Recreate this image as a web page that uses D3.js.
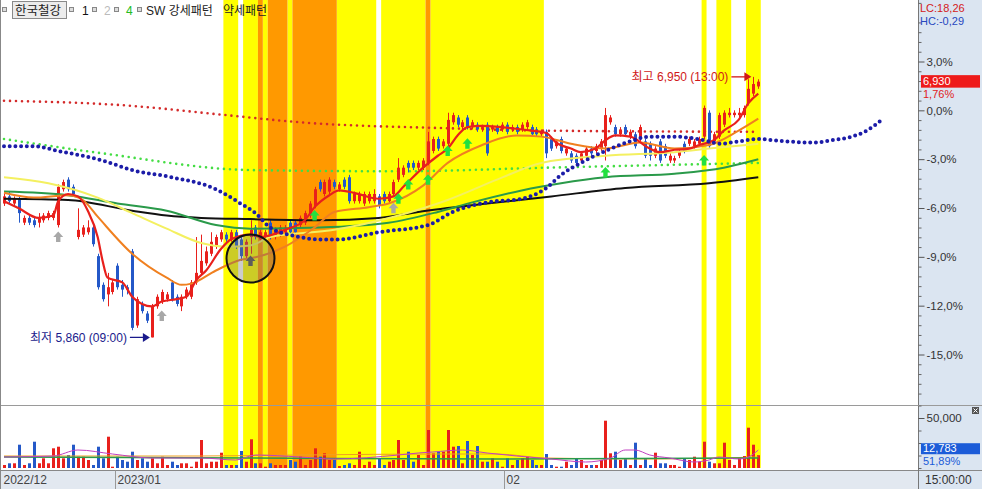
<!DOCTYPE html>
<html><head><meta charset="utf-8">
<script src="https://cdn.jsdelivr.net/npm/d3@7"></script>
<style>
body{margin:0;background:#fff;overflow:hidden;}
svg{display:block;font-family:"Liberation Sans","Noto Sans CJK KR",sans-serif;}
</style></head><body>
<svg id="c" width="982" height="489"></svg>
<script>
// ---------- DATA ----------
const opens=[6420,6450,6420,6440,6340,6360,6350,6340,6350,6360,6360,6330,6480,6520,6490,6280,6290,6300,6320,6200,
6080,6040,6050,6160,6080,6070,6220,5910,6000,5960,5860,5990,6010,6020,6090,6030,5990,6030,6030,6090,
6130,6170,6210,6240,6270,6290,6270,6300,6270,6200,6280,6320,6270,6280,6340,6280,6290,6300,6340,6340,
6330,6340,6370,6410,6510,6460,6470,6510,6480,6520,6530,6430,6430,6420,6430,6430,6450,6460,6430,6460,
6520,6540,6590,6590,6570,6570,6590,6640,6690,6660,6670,6760,6780,6740,6780,6740,6750,6730,6750,6730,
6740,6730,6750,6730,6740,6730,6740,6740,6730,6710,6720,6690,6660,6690,6630,6630,6620,6600,6620,6650,
6640,6650,6660,6760,6740,6710,6740,6700,6710,6690,6680,6670,6620,6680,6660,6600,6600,6620,6670,6670,
6660,6670,6700,6800,6680,6700,6750,6790,6790,6790,6790,6840,6880,6910];
const highs=[6460,6470,6450,6450,6370,6370,6360,6380,6380,6390,6390,6500,6520,6530,6500,6400,6330,6350,6330,6210,
6090,6130,6100,6170,6100,6080,6230,6030,6010,5970,6000,6040,6060,6050,6100,6040,6040,6070,6100,6280,
6290,6240,6300,6290,6310,6300,6310,6310,6280,6270,6350,6330,6310,6310,6350,6320,6330,6330,6350,6350,
6370,6390,6430,6490,6520,6520,6530,6520,6510,6530,6540,6470,6470,6470,6470,6480,6460,6470,6470,6520,
6610,6580,6600,6600,6600,6610,6720,6700,6700,6690,6800,6800,6790,6770,6790,6770,6760,6750,6760,6750,
6750,6760,6760,6750,6750,6760,6770,6750,6740,6730,6730,6700,6690,6700,6660,6640,6630,6640,6660,6660,
6670,6690,6820,6790,6750,6740,6750,6730,6720,6750,6690,6680,6660,6690,6670,6630,6620,6650,6680,6700,
6690,6700,6830,6810,6720,6800,6810,6820,6810,6820,6830,6940,6950,6940];
const lows=[6410,6420,6410,6340,6330,6330,6320,6320,6340,6350,6350,6320,6470,6470,6450,6270,6280,6290,6240,6060,
6010,5990,6040,6060,6030,6040,5890,5900,5960,5920,5860,5980,6000,6010,6010,5990,5970,6020,6020,6080,
6120,6160,6200,6230,6260,6260,6260,6230,6180,6190,6210,6270,6260,6270,6270,6270,6280,6290,6290,6290,
6320,6330,6360,6400,6470,6450,6460,6480,6470,6480,6420,6420,6420,6410,6420,6420,6400,6420,6420,6450,
6510,6530,6550,6560,6560,6560,6580,6630,6640,6650,6660,6750,6740,6730,6730,6730,6720,6720,6620,6720,
6710,6720,6710,6720,6710,6720,6730,6700,6700,6700,6610,6640,6650,6630,6620,6590,6580,6590,6610,6620,
6630,6640,6600,6750,6700,6700,6700,6690,6650,6680,6610,6600,6610,6590,6610,6590,6590,6610,6630,6660,
6650,6660,6690,6650,6670,6690,6740,6780,6780,6780,6780,6830,6870,6900];
const closes=[6450,6430,6440,6380,6360,6340,6330,6360,6370,6380,6380,6490,6510,6480,6460,6310,6320,6320,6250,6070,
6020,6070,6090,6070,6060,6060,5900,6020,5970,5930,5990,6030,6050,6040,6020,6000,6030,6060,6090,6130,
6180,6220,6260,6280,6300,6270,6300,6240,6200,6260,6310,6280,6300,6300,6280,6310,6320,6320,6300,6300,
6360,6380,6420,6480,6480,6510,6520,6490,6500,6490,6430,6460,6460,6460,6460,6460,6410,6430,6460,6510,
6570,6570,6570,6570,6590,6600,6680,6690,6650,6680,6770,6790,6750,6760,6740,6760,6730,6740,6630,6740,
6720,6750,6720,6740,6720,6750,6760,6710,6710,6720,6630,6650,6680,6640,6650,6600,6590,6630,6650,6630,
6660,6680,6790,6780,6710,6730,6710,6720,6660,6740,6620,6620,6650,6600,6620,6620,6610,6640,6640,6690,
6680,6690,6820,6660,6710,6790,6800,6800,6800,6800,6820,6900,6920,6930];
const volumes=[3000,4700,4700,23300,3000,4700,26300,4700,9700,4700,19700,21300,9700,13000,23300,11300,11300,8000,3000,21300,
9700,31300,1300,11300,8000,6300,16300,8000,9700,6300,9700,4700,11300,3000,6300,3000,4700,4700,1300,6300,
28000,4700,6300,6300,15300,3000,3000,3000,17000,6300,28700,4700,4700,1300,4700,3000,3000,3000,8000,6300,
11300,3000,8000,19700,11300,14700,8000,8000,2000,3000,4700,3000,16300,3000,6300,3000,9700,3000,6300,8000,
28000,8000,16300,6300,13000,3000,38000,14700,16300,16300,38000,21300,22000,4700,27000,13000,22000,6300,6300,9700,
6300,1300,9700,3000,8000,9700,11300,8000,3000,3000,14000,3000,1300,1300,6300,3000,9700,8000,3000,3000,
3000,8000,47300,14700,16300,8000,9700,3000,25300,3000,9700,3000,15300,4700,4700,3000,3000,1300,9700,8000,
11300,6300,26300,6300,4700,4700,25300,8000,3000,9700,12000,40300,23300,12783];
const basePrice=6810;
const pctTicks=[-15,-12,-9,-6,-3,0,3];
const volTicks=[50000];
const dateTicks=[{i:0,label:"2022/12"},{i:23,label:"2023/01"},{i:102,label:"02"}];
// moving-average / indicator lines: [candle index, price]
const lineRed=[[0,6430],[3,6400],[7,6360],[10,6370],[11,6430],[13,6460],[15,6450],[17,6390],[19,6280],[20,6180],[21,6110],[24,6090],[26,6030],[28,6000],[30,5990],[32,6010],[35,6020],[37,6030],[39,6100],[41,6140],[44,6230],[46,6270],[50,6290],[52,6280],[57,6310],[61,6350],[63,6405],[66,6455],[68,6475],[71,6465],[76,6440],[79,6450],[81,6490],[85,6570],[88,6620],[90,6650],[92,6705],[94,6740],[97,6745],[103,6735],[107,6725],[110,6715],[112,6675],[115,6650],[117,6635],[120,6650],[122,6685],[124,6705],[127,6700],[131,6650],[133,6635],[136,6645],[139,6650],[141,6665],[144,6685],[146,6725],[149,6770],[151,6840],[153,6880]];
const lineOrange=[[0,6465],[6,6445],[13,6455],[16,6435],[19,6365],[26,6210],[33,6110],[36,6080],[38,6085],[43,6140],[48,6185],[51,6195],[57,6240],[63,6320],[67,6385],[74,6405],[78,6420],[85,6495],[90,6590],[97,6665],[104,6705],[109,6700],[115,6670],[122,6650],[129,6675],[136,6650],[143,6665],[149,6725],[153,6775]];
const lineYellow=[[0,6530],[9,6505],[19,6445],[26,6380],[33,6315],[40,6255],[45,6240],[50,6245],[54,6280],[67,6310],[80,6370],[90,6435],[100,6520],[109,6590],[122,6620],[136,6635],[143,6650],[153,6670]];
const lineGreen=[[0,6470],[13,6455],[23,6420],[33,6390],[43,6330],[50,6315],[64,6320],[78,6340],[88,6385],[95,6425],[105,6475],[113,6505],[122,6530],[136,6545],[146,6570],[153,6605]];
const lineBlack=[[0,6440],[13,6435],[26,6390],[33,6370],[40,6360],[50,6355],[64,6350],[76,6360],[84,6385],[98,6420],[111,6450],[126,6485],[143,6505],[153,6530]];
const dotRed=[[0,6850],[25,6830],[45,6790],[60,6760],[90,6735],[110,6725],[153,6720]];
const dotGreen=[[0,6690],[20,6630],[50,6560],[80,6555],[110,6570],[153,6590]];
const dotNavy=[[0,6660],[6,6660],[11,6640],[20,6600],[26,6560],[34,6530],[43,6480],[48,6420],[51,6380],[54,6320],[60,6280],[64,6270],[68,6270],[76,6300],[86,6330],[91,6385],[98,6425],[105,6440],[110,6485],[113,6540],[117,6590],[122,6640],[127,6680],[131,6700],[136,6700],[139,6695],[143,6680],[145,6670],[149,6680],[153,6690],[156,6685],[159,6680],[164,6675],[168,6685],[172,6700],[175,6725],[178,6770]];
const volLineGreen=[[0,11000],[50,10000],[100,9000],[153,10000]];
const volLineOrange=[[0,12000],[40,12000],[60,13000],[90,14000],[100,14000],[110,10000],[130,9000],[153,11000]];
const volLineMagenta=[[0,11000],[10,12000],[15,18000],[22,14000],[30,10000],[40,10000],[47,8000],[51,13000],[60,11000],[67,9000],[80,13000],[84,15000],[87,16000],[93,18000],[98,15000],[104,12000],[111,9000],[118,6000],[123,10000],[126,18000],[128,18000],[131,13000],[135,10000],[140,6000],[143,8000],[145,11000],[149,9000],[151,11000],[153,18000]];
const bandsYellow=[[45,47],[49,51],[53,53],[58,58],[68,75],[77,85],[87,109],[142,142],[145,147],[151,153]];
const bandsOrange=[[52,52],[54,57],[59,67],[86,86]];
const signals=[{i:11,p:6280,c:"#a8a8a8"},{i:32,p:5950,c:"#a8a8a8"},{i:50,p:6180,c:"#555555"},{i:63,p:6370,c:"#22e040"},
{i:79,p:6400,c:"#a8a8a8"},{i:80,p:6440,c:"#22e040"},{i:82,p:6500,c:"#22e040"},{i:86,p:6520,c:"#22e040"},
{i:90,p:6640,c:"#22e040"},{i:94,p:6670,c:"#22e040"},{i:122,p:6550,c:"#22e040"},{i:142,p:6600,c:"#22e040"}];
const circleMark={i:50,p:6190};
const lowMark={i:30,p:5860,label:"최저 5,860 (09:00)"};
const highMark={i:152,p:6950,label:"최고 6,950 (13:00)"};
const legendItems=["1","2","4","SW 강세패턴","약세패턴"];
const stockName="한국철강";
const lcText="LC:18,26", hcText="HC:-0,29";
const lastPctText="1,76%", lastVolPctText="51,89%";
const timeText="15:00:00";

// ---------- CHART ----------
const svg=d3.select("#c");
const W=982,H=489,PR=918,MAIN_B=405.5,VOL_B=468,DATE_T=470.5;
const RED="#e8201c",BLUE="#2458c8";
const N=closes.length;
const x=d3.scaleLinear().domain([0,N-1]).range([4,758.3]);
const step=x(1)-x(0);
const y=d3.scaleLinear().domain([-15,3]).range([354.5,61.5]);
const pct=p=>(p/basePrice-1)*100;
const yp=p=>y(pct(p));
const yv=d3.scaleLinear().domain([0,62500]).range([VOL_B,405.5]);

svg.append("rect").attr("width",W).attr("height",H).attr("fill","#fff");
// bands
const bandG=svg.append("g");
function band(arr,col){arr.forEach(([s,e])=>{bandG.append("rect").attr("x",x(s)-step/2).attr("y",0)
 .attr("width",x(e)-x(s)+step).attr("height",VOL_B).attr("fill",col);});}
band(bandsYellow,"#ffff00");band(bandsOrange,"#ff9900");

svg.append("clipPath").attr("id","cm").append("rect").attr("x",0).attr("y",0).attr("width",PR).attr("height",MAIN_B);
svg.append("clipPath").attr("id","cv").append("rect").attr("x",0).attr("y",MAIN_B+1).attr("width",PR).attr("height",VOL_B-MAIN_B-1);
const gm=svg.append("g").attr("clip-path","url(#cm)");
const gv=svg.append("g").attr("clip-path","url(#cv)");

// volume bars
volumes.forEach((v,i)=>{const up=closes[i]>=opens[i];
 gv.append("rect").attr("x",Math.round(x(i))-1).attr("y",yv(v)).attr("width",3).attr("height",VOL_B-yv(v)).attr("fill",up?RED:BLUE);});
const lineV=d3.line().x(d=>x(d[0])).y(d=>yv(d[1])).curve(d3.curveMonotoneX);
gv.append("path").attr("d",lineV(volLineOrange)).attr("fill","none").attr("stroke","#f0a020").attr("stroke-width",1);
gv.append("path").attr("d",lineV(volLineGreen)).attr("fill","none").attr("stroke","#2a9a4a").attr("stroke-width",1.5);
gv.append("path").attr("d",lineV(volLineMagenta)).attr("fill","none").attr("stroke","#c040c0").attr("stroke-width",1);

// dotted lines
const lineP=d3.line().x(d=>x(d[0])).y(d=>yp(d[1])).curve(d3.curveMonotoneX);
function dotted(data,col,w,gap){gm.append("path").attr("d",lineP(data)).attr("fill","none").attr("stroke",col)
 .attr("stroke-width",w).attr("stroke-linecap","round").attr("stroke-dasharray","0 "+gap);}
dotted(dotRed,"#d42a2a",2.6,6);
dotted(dotGreen,"#44dd44",2.6,6);

// candles
closes.forEach((c,i)=>{const o=opens[i],up=c>=o,col=up?RED:BLUE,cx=Math.round(x(i));
 gm.append("line").attr("x1",cx+0.5).attr("x2",cx+0.5).attr("y1",yp(highs[i])).attr("y2",yp(lows[i])).attr("stroke",col).attr("stroke-width",1);
 const t=yp(Math.max(o,c)),b=yp(Math.min(o,c));
 gm.append("rect").attr("x",cx-1).attr("y",t).attr("width",3).attr("height",Math.max(1.2,b-t)).attr("fill",col);});

// MA lines
function solid(data,col,w){gm.append("path").attr("d",lineP(data)).attr("fill","none").attr("stroke",col).attr("stroke-width",w);}
solid(lineBlack,"#111111",2);
solid(lineGreen,"#2a9a4a",2);
solid(lineYellow,"#f4f060",2);
solid(lineOrange,"#f08020",2);
solid(lineRed,"#e8201c",2.2);
dotted(dotNavy,"#1c1ca8",4,5.7);

// signals
signals.forEach(s=>{gm.append("path").attr("transform",`translate(${x(s.i)},${yp(s.p)})`)
 .attr("d","M0,-5.5L5,0L2.2,0L2.2,5L-2.2,5L-2.2,0L-5,0Z").attr("fill",s.c);});
// circle
gm.append("circle").attr("cx",x(circleMark.i)).attr("cy",yp(circleMark.p)).attr("r",24)
 .attr("fill","rgba(110,110,110,0.35)").attr("stroke","#111").attr("stroke-width",2);

// annotations
function annot(m,col){const ax=x(m.i)-2,ay=yp(m.p);
 gm.append("line").attr("x1",ax-20).attr("x2",ax-5).attr("y1",ay).attr("y2",ay).attr("stroke",col).attr("stroke-width",1.3);
 gm.append("path").attr("d",`M${ax},${ay}L${ax-7},${ay-4.5}L${ax-7},${ay+4.5}Z`).attr("fill",col);
 gm.append("text").attr("x",ax-23).attr("y",ay+4.5).attr("text-anchor","end").attr("font-size",12).attr("fill",col).text(m.label);}
annot(lowMark,"#1a1a8c");
annot(highMark,"#d01818");

// legend
const lg=svg.append("g");
function sq(xx){lg.append("rect").attr("x",xx+0.5).attr("y",7.5).attr("width",4).attr("height",4).attr("fill","#ddd").attr("stroke","#888").attr("stroke-width",1);}
sq(2);
lg.append("rect").attr("x",12.5).attr("y",1.5).attr("width",54).attr("height",17).attr("fill","#ececec").attr("stroke","#8a8a8a");
lg.append("text").attr("x",15).attr("y",15).attr("font-size",12.5).attr("fill","#222").text(stockName);
const lgPos=[[69,82,"#111"],[92,104,"#bbbbbb"],[114,126,"#22bb22"],[137,146,"#222"],[null,223,"#222"]];
legendItems.forEach((t,k)=>{const [sx,tx,col]=lgPos[k]; if(sx!==null)sq(sx);
 lg.append("text").attr("x",tx).attr("y",15).attr("font-size",12).attr("fill",col).text(t);});

// separators / panels
svg.append("line").attr("x1",0).attr("x2",W).attr("y1",MAIN_B).attr("y2",MAIN_B).attr("stroke","#9a9a9a");
svg.append("rect").attr("x",PR).attr("y",0).attr("width",W-PR).attr("height",H).attr("fill","#dbe5f1");
svg.append("rect").attr("x",0).attr("y",DATE_T).attr("width",PR).attr("height",H-DATE_T).attr("fill","#e2e8f0");
svg.append("line").attr("x1",0).attr("x2",W).attr("y1",DATE_T).attr("y2",DATE_T).attr("stroke","#888");
svg.append("line").attr("x1",0.5).attr("x2",0.5).attr("y1",0).attr("y2",H).attr("stroke","#888");
svg.append("line").attr("x1",PR+0.5).attr("x2",PR+0.5).attr("y1",0).attr("y2",H).attr("stroke","#777");
svg.append("line").attr("x1",PR).attr("x2",W).attr("y1",MAIN_B).attr("y2",MAIN_B).attr("stroke","#9a9a9a");

// right price axis
const minor=d3.range(-17.4,6.7,0.6).map(v=>+v.toFixed(1)).filter(v=>Math.abs(v/3-Math.round(v/3))>0.01);
svg.append("g").attr("transform",`translate(${PR+0.5},0)`).call(d3.axisRight(y).tickValues(minor).tickSize(3).tickFormat(""))
 .call(g=>{g.select(".domain").remove();g.selectAll("line").attr("stroke","#666");});
svg.append("g").attr("transform",`translate(${PR+0.5},0)`).call(d3.axisRight(y).tickValues(pctTicks).tickSize(6).tickPadding(2)
 .tickFormat(d=>d.toFixed(1).replace(".",",")+"%"))
 .call(g=>{g.select(".domain").remove();g.selectAll("line").attr("stroke","#555");
  g.selectAll("text").attr("font-size",11.5).attr("fill","#333").attr("font-family","Liberation Sans");});
// volume axis
svg.append("g").attr("transform",`translate(${PR+0.5},0)`).call(d3.axisRight(yv).tickValues(d3.range(0,62501,12500)).tickSize(3).tickFormat(""))
 .call(g=>{g.select(".domain").remove();g.selectAll("line").attr("stroke","#666");});
svg.append("g").attr("transform",`translate(${PR+0.5},0)`).call(d3.axisRight(yv).tickValues(volTicks).tickSize(6).tickPadding(2).tickFormat(d3.format(",")))
 .call(g=>{g.select(".domain").remove();g.selectAll("line").attr("stroke","#555");
  g.selectAll("text").attr("font-size",11.5).attr("fill","#333");});
// small close icon
svg.append("rect").attr("x",972).attr("y",407).attr("width",7).attr("height",7).attr("fill","#555");
svg.append("path").attr("d","M973.5,408.5L977.5,412.5M977.5,408.5L973.5,412.5").attr("stroke","#fff").attr("stroke-width",1);

// LC / HC
svg.append("text").attr("x",920).attr("y",11.5).attr("font-size",11).attr("fill","#d42020").text(lcText);
svg.append("text").attr("x",920).attr("y",24.5).attr("font-size",11).attr("fill","#2848c0").text(hcText);
// last price label
const ly=yp(closes[N-1]);
svg.append("rect").attr("x",921).attr("y",ly-6.5).attr("width",59).attr("height",12.5).attr("fill","#ee1a1a");
svg.append("text").attr("x",923).attr("y",ly+3.5).attr("font-size",11).attr("fill","#fff").text(d3.format(",")(closes[N-1]));
svg.append("text").attr("x",923).attr("y",ly+16.5).attr("font-size",11).attr("fill","#e02020").text(lastPctText);
// last volume label
const vy=yv(volumes[N-1])-6.5;
svg.append("rect").attr("x",921).attr("y",vy-5.5).attr("width",59).attr("height",11).attr("fill","#1c5cd8");
svg.append("text").attr("x",923).attr("y",vy+3.5).attr("font-size",11).attr("fill","#fff").text(d3.format(",")(volumes[N-1]));
svg.append("text").attr("x",923).attr("y",vy+16.5).attr("font-size",11).attr("fill","#1c5cd8").text(lastVolPctText);

// date axis
dateTicks.forEach(d=>{const xx=d.i===0?1:Math.round(x(d.i)-step/2);
 if(d.i!==0)svg.append("line").attr("x1",xx+0.5).attr("x2",xx+0.5).attr("y1",DATE_T).attr("y2",H).attr("stroke","#999");
 svg.append("text").attr("x",xx+2.5).attr("y",484).attr("font-size",12).attr("fill","#444").text(d.label);});
svg.append("text").attr("x",925).attr("y",484).attr("font-size",12).attr("fill","#333").text(timeText);
</script></body></html>
